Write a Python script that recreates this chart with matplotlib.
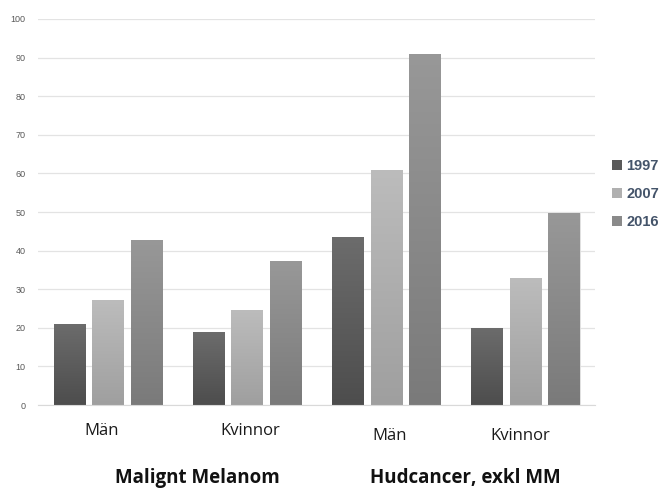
import numpy as np
import matplotlib
matplotlib.use("Agg")
import matplotlib.pyplot as plt
from matplotlib.colors import LinearSegmentedColormap
from matplotlib.patches import Patch

categories = ["Män", "Kvinnor", "Män", "Kvinnor"]
groups = ["Malignt Melanom", "Hudcancer, exkl MM"]
years = ["1997", "2007", "2016"]
values_1997 = [21, 18.8, 43.4, 20]
values_2007 = [27.1, 24.5, 61, 32.8]
values_2016 = [42.8, 37.3, 91, 49.8]
yticks = [0, 10, 20, 30, 40, 50, 60, 70, 80, 90, 100]

# top / bottom colour of each series gradient
grads = [("#6c6c6c", "#4d4d4d"), ("#bcbcbc", "#9f9f9f"), ("#989898", "#7a7a7a")]
legend_colors = ["#5a5a5a", "#b0b0b0", "#8a8a8a"]

fig = plt.figure(figsize=(6.59, 4.92), dpi=100)
ax = fig.add_axes([0.0577, 0.1768, 0.8453, 0.7846])

x = np.arange(len(categories))
width = 0.223
step = 0.277
series = [values_1997, values_2007, values_2016]

for i, vals in enumerate(series):
    bars = ax.bar(x + (i - 1) * step, vals, width, color=legend_colors[i],
                  edgecolor="#e6e6e6", linewidth=0.6, zorder=2)
    cmap = LinearSegmentedColormap.from_list("g%d" % i, [grads[i][1], grads[i][0]])
    for b in bars:
        x0, y0 = b.get_x(), b.get_y()
        w, h = b.get_width(), b.get_height()
        grad = np.linspace(0, 1, 256).reshape(-1, 1)
        im = ax.imshow(grad, cmap=cmap, origin="lower", aspect="auto",
                       extent=[x0, x0 + w, y0, y0 + h], zorder=2.5)
        im.set_clip_path(b)

ax.set_xlim(-0.5, 3.5)
ax.set_ylim(0, 100)
ax.set_yticks(yticks)
ax.set_xticks([])
ax.grid(axis="y", color="#e3e3e3", linewidth=0.9, zorder=0)
ax.set_axisbelow(True)
for s in ["left", "right", "top"]:
    ax.spines[s].set_visible(False)
ax.spines["bottom"].set_color("#d9d9d9")
ax.tick_params(axis="y", length=0, pad=9, labelsize=6.5, labelcolor="#595959")
for t in ax.get_yticklabels():
    t.set_family("Liberation Sans")

to_fig = fig.transFigure.inverted()

# category labels under each group
label_offsets = [-0.04, 0.022, 0.028, -0.039]
label_y = [0.116, 0.116, 0.106, 0.106]
for i, cat in enumerate(categories):
    xf = to_fig.transform(ax.transData.transform((x[i] + label_offsets[i], 0)))[0]
    fig.text(xf, label_y[i], cat, ha="center", va="baseline", fontsize=12,
             family="Open Sans", color="#1a1a1a")

group_x = [0.642, 2.566]
for gx, g in zip(group_x, groups):
    xf = to_fig.transform(ax.transData.transform((gx, 0)))[0]
    fig.text(xf, 0.019, g, ha="center", va="baseline", fontsize=13.5,
             family="Open Sans", fontweight="bold", color="#111111")

handles = [Patch(facecolor=c, edgecolor="none") for c in legend_colors]
leg = fig.legend(handles, years, loc="center left", bbox_to_anchor=(0.929, 0.605),
                 frameon=False, handlelength=0.7, handleheight=0.7,
                 handletextpad=0.25, labelspacing=0.95, borderpad=0, borderaxespad=0,
                 prop={"family": "Liberation Sans", "weight": "bold", "size": 10.5})
for t in leg.get_texts():
    t.set_color("#44546a")

fig.savefig("out.png", dpi=100, facecolor="white")
